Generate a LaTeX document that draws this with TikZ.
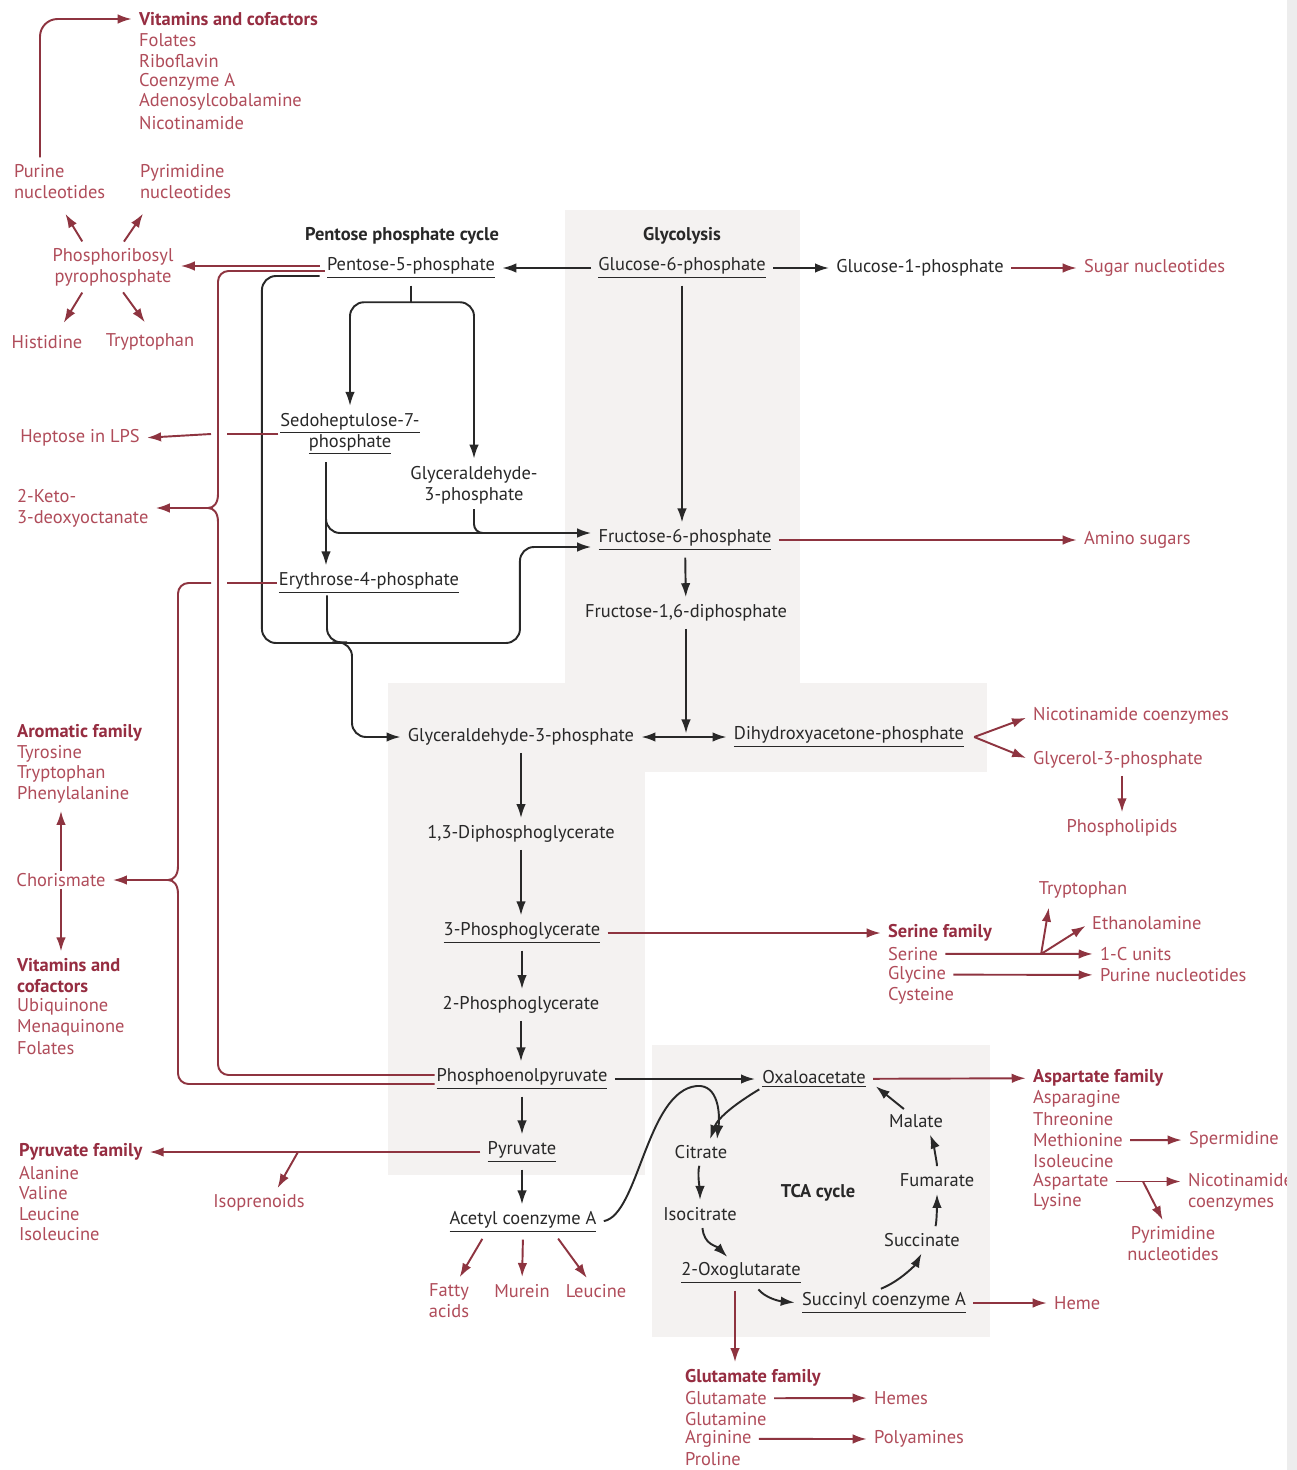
\documentclass[tikz,border=0pt]{standalone}
\usepackage{fontspec}
\setmainfont{PT Sans}
\usetikzlibrary{arrows.meta,calc}
\definecolor{ink}{RGB}{40,40,40}
\definecolor{rose}{RGB}{176,76,90}
\definecolor{wine}{RGB}{150,45,65}
\definecolor{arrowred}{RGB}{142,52,64}
\definecolor{panel}{RGB}{244,242,241}
\newcommand{\dfont}{\fontsize{10.5}{12}\selectfont}
\newcommand{\ul}[1]{\underline{#1}}
\begin{document}
\begin{tikzpicture}[x=0.02cm, y=-0.02cm,
    every node/.style={inner sep=1pt, font=\dfont},
    met/.style={text=ink},
    prod/.style={text=rose},
    lsitem/.style={text=rose, anchor=west},
    fam/.style={text=wine, anchor=west, font=\dfont\bfseries},
    hdr/.style={text=ink, font=\dfont\bfseries},
    blk/.style={draw=ink, line width=1.1pt, -{Latex[length=2.8mm,width=1.9mm]}, shorten >=3pt, shorten <=3pt},
    blkline/.style={draw=ink, line width=1.1pt},
    rarr/.style={draw=arrowred, line width=1.1pt, -{Latex[length=2.8mm,width=1.9mm]}, shorten >=3pt, shorten <=3pt},
    rline/.style={draw=arrowred, line width=1.1pt}]
\useasboundingbox (0,0) rectangle (1297,1470);
\fill[white] (0,0) rectangle (1297,1470);
% shaded panels
\fill[panel] (565,210) rectangle (800,683);
\fill[panel] (388,683) rectangle (987,772);
\fill[panel] (388,772) rectangle (645,1175);
\fill[panel] (652,1045) rectangle (990,1337);

% top left
\node[fam] (vith) at (137,19) {Vitamins and cofactors};
\foreach \t [count=\i] in {Folates,Riboflavin,Coenzyme A,Adenosylcobalamine,Nicotinamide}
    \node[lsitem] (vit\i) at (137,19+20.8*\i) {\t};
\node[prod, align=left, anchor=west] (purn) at (12,182) {Purine\\nucleotides};
\node[prod, align=left, anchor=west] (pyrn) at (138,182) {Pyrimidine\\nucleotides};
\node[prod, align=center] (prpp) at (113,267) {Phosphoribosyl\\pyrophosphate};
\node[prod] (his) at (47,342) {Histidine};
\node[prod] (trpa) at (150,342) {Tryptophan};

% headers
\node[hdr] (ppch) at (402,236) {Pentose phosphate cycle};
\node[hdr] (glyh) at (682,236) {Glycolysis};
\node[hdr] (tcah) at (818,1193) {TCA cycle};

% central pathway
\node[met] (p5p) at (411,268) {\ul{Pentose-5-phosphate}};
\node[met] (g6p) at (682,268) {\ul{Glucose-6-phosphate}};
\node[met] (g1p) at (920,268) {Glucose-1-phosphate};
\node[prod, anchor=west] (sugn) at (1082,268) {Sugar nucleotides};
\node[met, align=center] (s7p) at (350,434) {\ul{Sedoheptulose-7-}\\\ul{phosphate}};
\node[met, align=center] (gap1) at (474,485) {Glyceraldehyde-\\3-phosphate};
\node[met] (e4p) at (369,583) {\ul{Erythrose-4-phosphate}};
\node[met] (f6p) at (685,540) {\ul{Fructose-6-phosphate}};
\node[prod, anchor=west] (amis) at (1082,540) {Amino sugars};
\node[met] (fdp) at (686,613) {Fructose-1,6-diphosphate};
\node[met] (gap) at (521,737) {Glyceraldehyde-3-phosphate};
\node[met] (dhap) at (849,737) {\ul{Dihydroxyacetone-phosphate}};
\node[prod, anchor=west] (nicc) at (1031,716) {Nicotinamide coenzymes};
\node[prod, anchor=west] (glyp) at (1031,760) {Glycerol-3-phosphate};
\node[prod] (phl) at (1122,828) {Phospholipids};
\node[met] (bpg) at (521,834) {1,3-Diphosphoglycerate};
\node[met] (pga3) at (522,933) {\ul{3-Phosphoglycerate}};
\node[met] (pga2) at (521,1005) {2-Phosphoglycerate};
\node[met] (pep) at (522,1079) {\ul{Phosphoenolpyruvate}};
\node[met] (pyr) at (522,1152) {\ul{Pyruvate}};
\node[met] (acoa) at (523,1222) {\ul{Acetyl coenzyme A}};
\node[prod, align=center] (fat) at (449,1301) {Fatty\\acids};
\node[prod] (mur) at (522,1291) {Murein};
\node[prod] (leua) at (596,1291) {Leucine};

% TCA cycle
\node[met] (oaa) at (814,1079) {\ul{Oxaloacetate}};
\node[met] (cit) at (701,1152) {Citrate};
\node[met] (icit) at (700,1214) {Isocitrate};
\node[met] (akg) at (741,1273) {\ul{2-Oxoglutarate}};
\node[met] (scoa) at (884,1303) {\ul{Succinyl coenzyme A}};
\node[met] (succ) at (922,1240) {Succinate};
\node[met] (fum) at (937,1180) {Fumarate};
\node[met] (mal) at (916,1121) {Malate};
\node[prod, anchor=west] (heme) at (1052,1303) {Heme};

% families
\node[fam] (serh) at (886,933) {Serine family};
\foreach \t [count=\i] in {Serine,Glycine,Cysteine}
    \node[lsitem] (ser\i) at (886,933+20.8*\i) {\t};
\node[prod] (trpb) at (1083,890) {Tryptophan};
\node[prod, anchor=west] (etha) at (1090,923) {Ethanolamine};
\node[prod, anchor=west] (onec) at (1098,954) {1-C units};
\node[prod, anchor=west] (purn2) at (1098,975) {Purine nucleotides};

\node[fam] (asph) at (1031,1078) {Aspartate family};
\foreach \t [count=\i] in {Asparagine,Threonine,Methionine,Isoleucine,Aspartate,Lysine}
    \node[lsitem] (asp\i) at (1031,1078+20.7*\i) {\t};
\node[prod, anchor=west] (sperm) at (1187,1140) {Spermidine};
\node[prod, align=left, anchor=west] (nicc2) at (1186,1192) {Nicotinamide\\coenzymes};
\node[prod, align=center] (pyrn2) at (1173,1244) {Pyrimidine\\nucleotides};

\node[fam] (pyrh) at (17,1152) {Pyruvate family};
\foreach \t [count=\i] in {Alanine,Valine,Leucine,Isoleucine}
    \node[lsitem] (pyf\i) at (17,1152+20.6*\i) {\t};
\node[prod] (iso) at (259,1203) {Isoprenoids};

\node[fam] (gluh) at (683,1378) {Glutamate family};
\foreach \t [count=\i] in {Glutamate,Glutamine,Arginine,Proline}
    \node[lsitem] (glu\i) at (683,1378+20.3*\i) {\t};
\node[prod, anchor=west] (hemes) at (872,1398) {Hemes};
\node[prod, anchor=west] (polya) at (872,1439) {Polyamines};

% left column
\node[prod] (hept) at (80,438) {Heptose in LPS};
\node[prod, align=left, anchor=west] (kdo) at (15,508) {2-Keto-\\3-deoxyoctanate};
\node[fam] (aroh) at (15,733) {Aromatic family};
\foreach \t [count=\i] in {Tyrosine,Tryptophan,Phenylalanine}
    \node[lsitem] (aro\i) at (15,733+20.7*\i) {\t};
\node[prod] (chor) at (61,880) {Chorismate};
\node[fam, align=left] (vith2) at (15,976) {Vitamins and\\cofactors};
\foreach \t [count=\i] in {Ubiquinone,Menaquinone,Folates}
    \node[lsitem] (vtb\i) at (15,986+20.7*\i) {\t};

% helper points
\coordinate (busA) at (218,0);
\coordinate (kdotip) at (208,508);
\coordinate (kdotop) at ($(kdotip)+(10,-14)$);
\coordinate (kdobot) at ($(kdotip)+(10,14)$);
\coordinate (chortip) at (168,880);
\coordinate (chortop) at ($(chortip)+(10,-14)$);
\coordinate (chorbot) at ($(chortip)+(10,14)$);
\coordinate (pepa) at ($(pep.west)+(0,-4)$);
\coordinate (pepb) at ($(pep.west)+(0,5)$);
\coordinate (p5pa) at ($(p5p.west)+(0,-2)$);
\coordinate (p5pb) at ($(p5p.west)+(0,3)$);
\coordinate (p5pk) at ($(p5p.west)+(0,8)$);
\coordinate (p5pfork) at ($(p5p.south)+(0,22)$);
\coordinate (s7out) at ($(s7p.south)+(-24,0)$);
\coordinate (e4out) at ($(e4p.south)+(-42,0)$);
\coordinate (f6pin1) at ($(f6p.west)+(0,-7)$);
\coordinate (f6pin2) at ($(f6p.west)+(0,7)$);
\coordinate (citin1) at ($(cit.north)+(16,-4)$);
\coordinate (citin2) at ($(cit.north)+(9,-4)$);
\coordinate (dhapo) at ($(dhap.east)+(8,0)$);
\coordinate (serj) at ($(ser1.east)!0.64!(onec.west)$);
\coordinate (aspj) at ($(asp5.east)!0.43!(nicc2.west |- asp5.east)$);
\coordinate (pyrj) at ($(pyr.west)!0.55!(pyrh.east)$);
\coordinate (akgd) at ($(akg.south)+(-6,0)$);

% black connectors
\draw[blk] (g6p) -- (p5p);
\draw[blk] (g6p) -- (g1p);
\draw[blk] (g6p.south) -- (g6p.south |- f6p.north);
\draw[blk] (f6p) -- (fdp);
\draw[blk, shorten >=2pt] (fdp.south) -- (fdp.south |- gap.east);
\draw[blk, {Latex[length=2.8mm,width=1.9mm]}-{Latex[length=2.8mm,width=1.9mm]}] (gap) -- (dhap);
\foreach \a/\b in {gap/bpg, bpg/pga3, pga3/pga2, pga2/pep, pep/pyr, pyr/acoa}
    \draw[blk] (\a.south) -- (\a.south |- \b.north);
\draw[blk] (pep) -- (oaa);
\draw[blkline, shorten <=3pt] (p5p.south) -- (p5pfork);
\draw[blk, shorten <=0pt, rounded corners=8pt] (p5pfork) -| (s7p.north);
\draw[blk, shorten <=0pt, rounded corners=8pt] (p5pfork) -| (gap1.north);
\draw[blk] (s7out) -- (s7out |- e4p.north);
\draw[blk, rounded corners=8pt] (s7out) |- (f6pin1);
\draw[blkline, rounded corners=5pt] ($(gap1.south)+(0,3)$) |- ($(gap1.south |- f6pin1)+(14,0)$);
\draw[blk, rounded corners=8pt] (p5pk) -- ++(-63,0) -- ++(0,367) -- ++(258,0) |- (f6pin2);
\draw[blkline, rounded corners=8pt] (e4out) -- ++(0,47) -- ++(20,0);
\draw[blk, rounded corners=8pt] (e4out) ++(0,47) -- ++(25,0) |- (gap.west);

% TCA cycle
\draw[blk, shorten >=0pt] (acoa.east) .. controls +(40,-7) and +(-50,5) .. ++(98,-136)
    .. controls +(22,-2) and +(3,-25) .. (citin1);
\draw[blk, shorten >=0pt, shorten <=2pt] ($(oaa.south west)+(2,-2)$) .. controls +(-25,15) and +(8,-22) .. (citin2);
\draw[blk] (cit.south) .. controls +(-4,12) and +(0,-12) .. (icit.north);
\draw[blk] ($(icit.south)+(2,0)$) .. controls +(2,22) and +(-15,-15) .. ($(akg.north)+(-10,0)$);
\draw[blk] ($(akg.south)+(14,0)$) .. controls +(10,12) and +(-22,-2) .. (scoa.west);
\draw[blk] ($(scoa.north)+(-8,0)$) .. controls +(25,-10) and +(-8,15) .. ($(succ.south)+(2,0)$);
\draw[blk] ($(succ.north)+(12,0)$) .. controls +(3,-10) and +(0,10) .. (fum.south);
\draw[blk] (fum.north) .. controls +(0,-10) and +(4,10) .. ($(mal.south)+(12,0)$);
\draw[blk] ($(mal.north)+(-8,0)$) -- ($(oaa.east)+(4,4)$);

% red connectors
\draw[rarr] (g1p) -- (sugn);
\draw[rarr] (f6p) -- (amis);
\draw[rarr] (p5pa) -- (p5pa -| prpp.east);
\draw[rline, rounded corners=6pt] (p5pb) -| (kdotop);
\draw[rline] (kdotop) .. controls +(0,9) and +(6,0) .. (kdotip) .. controls +(6,0) and +(0,-9) .. (kdobot);
\draw[rline, rounded corners=6pt] (kdobot) |- (pepa);
\draw[rarr, shorten <=0pt] (kdotip) -- (kdo.east);
\draw[rline] (s7p.west) -- ($(s7p.west -| busA)+(9,0)$);
\draw[rarr, shorten <=0pt] ($(s7p.west -| busA)+(-7,0)$) -- (hept.east);
\draw[rline] (e4p.west) -- ($(e4p.west -| busA)+(9,0)$);
\draw[rline, rounded corners=6pt] ($(e4p.west -| busA)+(-7,0)$) -| (chortop);
\draw[rline] (chortop) .. controls +(0,9) and +(6,0) .. (chortip) .. controls +(6,0) and +(0,-9) .. (chorbot);
\draw[rline, rounded corners=6pt] (chorbot) |- (pepb);
\draw[rarr, shorten <=0pt] (chortip) -- (chor.east);
\draw[rarr, shorten <=0pt] (chor.north) -- (chor.north |- aro3.south);
\draw[rarr, shorten <=0pt] (chor.south) -- (chor.south |- vith2.north);

\draw[rarr] ($(prpp.north)+(-28,0)$) -- ($(purn.south)+(3,8)$);
\draw[rarr] ($(prpp.north)+(8,0)$) -- ($(pyrn.south west)+(8,8)$);
\draw[rarr] ($(prpp.south)+(-28,0)$) -- ($(his.north)+(14,-6)$);
\draw[rarr] ($(prpp.south)+(7,0)$) -- ($(trpa.north)+(-2,-5)$);
\draw[rarr, rounded corners=10pt] ($(purn.north west)+(28,0)$) |- (vith.west);

\draw[rarr, shorten <=0pt] (dhapo) -- (nicc.west);
\draw[rarr, shorten <=0pt] (dhapo) -- (glyp.west);
\draw[rarr] (phl.north |- glyp.south) -- (phl.north);

\draw[rarr] (pga3) -- (serh);
\draw[rarr] (ser1) -- (onec);
\draw[rarr, shorten <=0pt] (serj) -- ($(trpb.south west)+(13,2)$);
\draw[rarr, shorten <=0pt] (serj) -- (etha.west);
\draw[rarr] (ser2) -- (purn2);

\draw[rarr] (oaa) -- (asph);
\draw[rarr] (asp3) -- (sperm);
\draw[rarr] (asp5.east) -- (nicc2.west |- asp5.east);
\draw[rarr, shorten <=0pt] (aspj) -- ($(pyrn2.north)+(-8,0)$);
\draw[rarr] (scoa) -- (heme);
\draw[rarr] (akgd) -- (akgd |- gluh.north);
\draw[rarr] (glu1) -- (hemes);
\draw[rarr] (glu3) -- (polya);

\draw[rarr] (pyr) -- (pyrh);
\draw[rarr, shorten <=0pt] (pyrj) -- ($(iso.north)+(16,0)$);
\draw[rarr] ($(acoa.south)+(-38,0)$) -- ($(fat.north)+(8,0)$);
\draw[rarr] (acoa.south) -- (mur.north);
\draw[rarr] ($(acoa.south)+(32,0)$) -- ($(leua.north)+(-6,0)$);

% page edge
\fill[black!7] (1287,0) rectangle (1297,1470);
\end{tikzpicture}
\end{document}
